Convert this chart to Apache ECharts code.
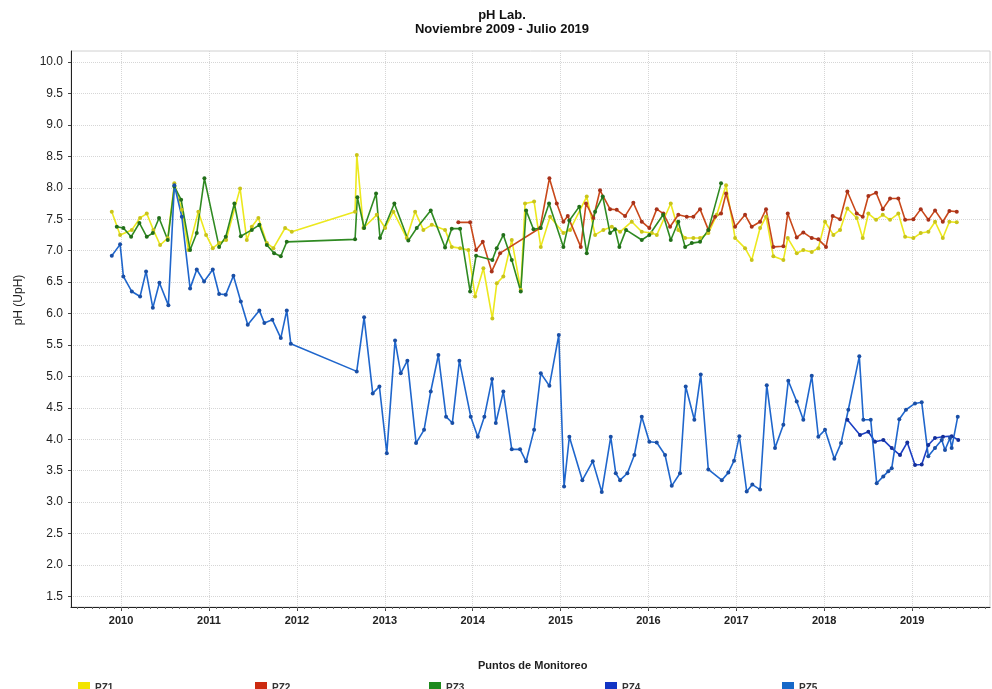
<!DOCTYPE html>
<html>
<head>
<meta charset="utf-8">
<script src="https://cdn.jsdelivr.net/npm/echarts@6/dist/echarts.min.js"></script>
<style>
  html, body { margin: 0; background: #fff; }
  #chart { width: 992px; height: 689px; }
</style>
</head>
<body>
<div id="chart"></div>
<script>
// fechas en años decimales, pH
const pz1Year = [2009.894,2009.989,2010.122,2010.216,2010.292,2010.367,2010.444,2010.531,2010.606,2010.691,2010.766,2010.879,2010.967,2011.043,2011.115,2011.195,2011.354,2011.430,2011.487,2011.562,2011.658,2011.733,2011.866,2011.942,2012.662,2012.682,2012.757,2012.909,2013.004,2013.098,2013.250,2013.345,2013.439,2013.535,2013.686,2013.762,2013.857,2013.951,2014.028,2014.122,2014.224,2014.274,2014.349,2014.445,2014.547,2014.596,2014.699,2014.775,2014.881,2015.032,2015.108,2015.298,2015.393,2015.487,2015.583,2015.677,2015.810,2015.924,2016.038,2016.095,2016.254,2016.340,2016.417,2016.511,2016.587,2016.682,2016.777,2016.883,2016.986,2017.099,2017.175,2017.270,2017.338,2017.421,2017.535,2017.585,2017.687,2017.762,2017.858,2017.933,2018.009,2018.104,2018.180,2018.263,2018.370,2018.438,2018.502,2018.590,2018.666,2018.749,2018.843,2018.920,2019.014,2019.098,2019.185,2019.261,2019.349,2019.424,2019.508];
const pz1Ph   = [7.62,7.25,7.33,7.52,7.59,7.33,7.09,7.20,8.07,7.65,7.01,7.62,7.25,7.04,7.12,7.17,7.99,7.17,7.38,7.52,7.12,7.04,7.36,7.30,7.62,8.52,7.36,7.57,7.36,7.62,7.20,7.62,7.33,7.41,7.33,7.06,7.04,7.01,6.27,6.72,5.92,6.48,6.59,7.17,6.38,7.75,7.78,7.06,7.54,7.28,7.33,7.86,7.25,7.33,7.38,7.30,7.46,7.30,7.28,7.25,7.75,7.33,7.20,7.20,7.20,7.28,7.57,8.04,7.20,7.04,6.85,7.36,7.54,6.91,6.85,7.20,6.96,7.01,6.98,7.04,7.46,7.25,7.33,7.67,7.52,7.20,7.59,7.49,7.57,7.49,7.59,7.22,7.20,7.28,7.30,7.46,7.20,7.46,7.45];

const pz2Year = [2013.837,2013.971,2014.039,2014.115,2014.217,2014.312,2014.767,2014.873,2014.957,2015.032,2015.082,2015.230,2015.290,2015.373,2015.449,2015.563,2015.639,2015.734,2015.828,2015.924,2016.010,2016.094,2016.170,2016.246,2016.340,2016.436,2016.511,2016.587,2016.682,2016.758,2016.826,2016.883,2016.986,2017.099,2017.175,2017.270,2017.338,2017.421,2017.535,2017.585,2017.687,2017.762,2017.858,2017.933,2018.020,2018.096,2018.180,2018.263,2018.370,2018.438,2018.502,2018.590,2018.666,2018.749,2018.843,2018.920,2019.014,2019.098,2019.185,2019.261,2019.349,2019.424,2019.508];
const pz2Ph   = [7.45,7.45,7.01,7.14,6.67,6.96,7.36,8.15,7.75,7.46,7.55,7.06,7.75,7.52,7.96,7.66,7.65,7.55,7.76,7.46,7.36,7.66,7.59,7.38,7.57,7.54,7.54,7.66,7.33,7.54,7.59,7.91,7.38,7.57,7.38,7.46,7.66,7.06,7.07,7.59,7.21,7.29,7.20,7.18,7.06,7.55,7.50,7.94,7.59,7.54,7.87,7.92,7.66,7.83,7.83,7.49,7.50,7.66,7.49,7.64,7.46,7.63,7.62];

const pz3Year = [2009.951,2010.026,2010.114,2010.208,2010.292,2010.361,2010.432,2010.531,2010.606,2010.683,2010.785,2010.861,2010.948,2011.115,2011.191,2011.289,2011.362,2011.487,2011.573,2011.658,2011.741,2011.817,2011.885,2012.662,2012.688,2012.765,2012.901,2012.946,2013.109,2013.268,2013.364,2013.523,2013.686,2013.762,2013.857,2013.971,2014.039,2014.224,2014.274,2014.349,2014.445,2014.547,2014.608,2014.692,2014.775,2014.869,2015.032,2015.100,2015.213,2015.298,2015.393,2015.480,2015.563,2015.620,2015.669,2015.745,2015.924,2016.010,2016.167,2016.254,2016.340,2016.417,2016.493,2016.587,2016.682,2016.826];
const pz3Ph   = [7.38,7.36,7.22,7.44,7.22,7.28,7.52,7.17,8.02,7.81,7.01,7.28,8.15,7.06,7.22,7.75,7.23,7.33,7.41,7.09,6.96,6.91,7.14,7.18,7.85,7.36,7.91,7.20,7.75,7.16,7.36,7.64,7.05,7.35,7.35,6.35,6.92,6.85,7.04,7.25,6.85,6.35,7.64,7.34,7.36,7.75,7.06,7.48,7.70,6.96,7.62,7.86,7.28,7.34,7.06,7.33,7.17,7.25,7.57,7.17,7.46,7.06,7.12,7.14,7.33,8.07];

const pz4Year = [2018.263,2018.407,2018.502,2018.578,2018.672,2018.768,2018.862,2018.945,2019.033,2019.109,2019.184,2019.260,2019.351,2019.450,2019.525];
const pz4Ph   = [4.31,4.07,4.12,3.96,3.99,3.86,3.75,3.95,3.59,3.60,3.91,4.02,4.04,4.05,3.99];

const pz5Year = [2009.894,2009.989,2010.026,2010.122,2010.216,2010.284,2010.361,2010.436,2010.538,2010.606,2010.691,2010.785,2010.861,2010.944,2011.043,2011.115,2011.191,2011.278,2011.362,2011.441,2011.573,2011.630,2011.721,2011.817,2011.885,2011.931,2012.681,2012.765,2012.863,2012.939,2013.023,2013.117,2013.182,2013.257,2013.356,2013.447,2013.523,2013.610,2013.697,2013.769,2013.849,2013.978,2014.058,2014.133,2014.221,2014.263,2014.349,2014.445,2014.539,2014.608,2014.699,2014.775,2014.873,2014.980,2015.040,2015.100,2015.248,2015.366,2015.469,2015.571,2015.628,2015.677,2015.760,2015.840,2015.924,2016.010,2016.094,2016.189,2016.265,2016.359,2016.424,2016.522,2016.595,2016.681,2016.834,2016.909,2016.974,2017.034,2017.118,2017.182,2017.270,2017.346,2017.440,2017.535,2017.591,2017.687,2017.762,2017.858,2017.933,2018.009,2018.115,2018.191,2018.274,2018.399,2018.445,2018.529,2018.597,2018.672,2018.729,2018.768,2018.854,2018.930,2019.033,2019.109,2019.184,2019.260,2019.337,2019.374,2019.431,2019.450,2019.519];
const pz5Ph   = [6.92,7.10,6.59,6.35,6.27,6.67,6.09,6.49,6.13,8.04,7.54,6.40,6.70,6.51,6.70,6.31,6.30,6.60,6.19,5.82,6.05,5.85,5.90,5.61,6.05,5.52,5.08,5.94,4.73,4.84,3.78,5.57,5.05,5.25,3.94,4.15,4.76,5.34,4.36,4.26,5.25,4.36,4.04,4.36,4.96,4.26,4.76,3.84,3.84,3.65,4.15,5.05,4.85,5.66,3.25,4.04,3.35,3.65,3.16,4.04,3.46,3.35,3.46,3.75,4.36,3.96,3.95,3.75,3.26,3.46,4.84,4.31,5.03,3.52,3.35,3.47,3.66,4.05,3.17,3.28,3.20,4.86,3.86,4.23,4.93,4.60,4.31,5.01,4.04,4.15,3.69,3.94,4.47,5.32,4.31,4.31,3.30,3.41,3.49,3.54,4.32,4.47,4.57,4.59,3.73,3.86,3.99,3.83,4.02,3.86,4.36];

const yearTicks = [2010, 2011, 2012, 2013, 2014, 2015, 2016, 2017, 2018, 2019];
const phTicks = [1.5, 2, 2.5, 3, 3.5, 4, 4.5, 5, 5.5, 6, 6.5, 7, 7.5, 8, 8.5, 9, 9.5, 10];
const seriesNames = ['PZ1', 'PZ2', 'PZ3', 'PZ4', 'PZ5'];
const lineColors = ['#ece81e', '#c8481a', '#2f8a22', '#1b3fc4', '#1f66cc'];
const dotColors  = ['#c9c41a', '#a8321a', '#226f1a', '#142f9a', '#1a4fa6'];
const legendColors = ['#f2e400', '#cc2a10', '#1e8a1e', '#1234c4', '#1668c8'];

const xMin = 2009.43, xMax = 2019.886;
const monthTicks = [];
for (let y = 2009.5; y < xMax; y += 1 / 12) monthTicks.push(+y.toFixed(4));

const chart = echarts.init(document.getElementById('chart'), null, { renderer: 'canvas' });

const pairs = (xs, ys) => xs.map((x, i) => [x, ys[i]]);
const allData = [
  pairs(pz1Year, pz1Ph), pairs(pz2Year, pz2Ph), pairs(pz3Year, pz3Ph),
  pairs(pz4Year, pz4Ph), pairs(pz5Year, pz5Ph)
];

const legendLeft = [73, 250, 424, 600, 777];
const narrow = 'Liberation Sans Narrow, Liberation Sans, sans-serif';

chart.setOption({
  animation: false,
  textStyle: { fontFamily: 'Liberation Sans, Arial, sans-serif' },
  graphic: [{
    type: 'text', left: 478, top: 660,
    style: { text: 'Puntos de Monitoreo', font: 'bold 11px "Liberation Sans Narrow", "Liberation Sans", sans-serif', fill: '#222' }
  }, {
    type: 'text', x: 502, y: 8,
    style: {
      text: 'pH Lab.\nNoviembre 2009 - Julio 2019', align: 'center',
      font: 'bold 13px "Liberation Sans", Arial, sans-serif', lineHeight: 14, fill: '#111'
    }
  }],
  legend: seriesNames.map((n, i) => ({
    data: [{ name: n, itemStyle: { color: legendColors[i] } }],
    left: legendLeft[i], top: 677,
    icon: 'rect', itemWidth: 12, itemHeight: 12, itemGap: 4,
    textStyle: { fontSize: 10, fontWeight: 'bold', color: '#333', fontFamily: narrow }
  })),
  grid: { left: 71, right: 2, top: 51, bottom: 82, show: true, borderColor: '#d0d0d0', borderWidth: 1 },
  xAxis: [{
    type: 'value', min: xMin, max: xMax,
    axisLine: { show: true, lineStyle: { color: '#222' } },
    axisTick: { show: true, length: 4, customValues: yearTicks, lineStyle: { color: '#444' } },
    axisLabel: {
      customValues: yearTicks, margin: 8,
      formatter: v => String(Math.round(v)),
      fontSize: 11, fontWeight: 'bold', color: '#222', fontFamily: narrow
    },
    splitLine: { show: true, lineStyle: { color: '#d6d6d6', type: 'dotted' } }
  }, {
    type: 'value', min: xMin, max: xMax, position: 'bottom',
    axisLine: { show: false },
    axisTick: { show: true, length: 2, customValues: monthTicks, lineStyle: { color: '#666' } },
    axisLabel: { show: false },
    splitLine: { show: false }
  }],
  yAxis: {
    type: 'value', min: 1.333, max: 10.175,
    name: 'pH (UpH)', nameLocation: 'middle', nameGap: 46, nameRotate: 90,
    nameTextStyle: { fontSize: 12, color: '#222', padding: [0, 0, 0, 58] },
    axisLine: { show: true, lineStyle: { color: '#222' } },
    axisTick: { show: true, length: 3, customValues: phTicks, lineStyle: { color: '#444' } },
    axisLabel: {
      customValues: phTicks, formatter: v => v.toFixed(1),
      fontSize: 12, color: '#222', margin: 8
    },
    splitLine: { show: true, lineStyle: { color: '#d6d6d6', type: 'dotted' } }
  },
  series: allData.map((d, i) => ({
    name: seriesNames[i], type: 'line', data: d,
    symbol: 'circle', symbolSize: 4, showSymbol: true,
    lineStyle: { width: 1.6, color: lineColors[i] },
    itemStyle: { color: dotColors[i] },
    emphasis: { disabled: true }
  }))
});
</script>
</body>
</html>
